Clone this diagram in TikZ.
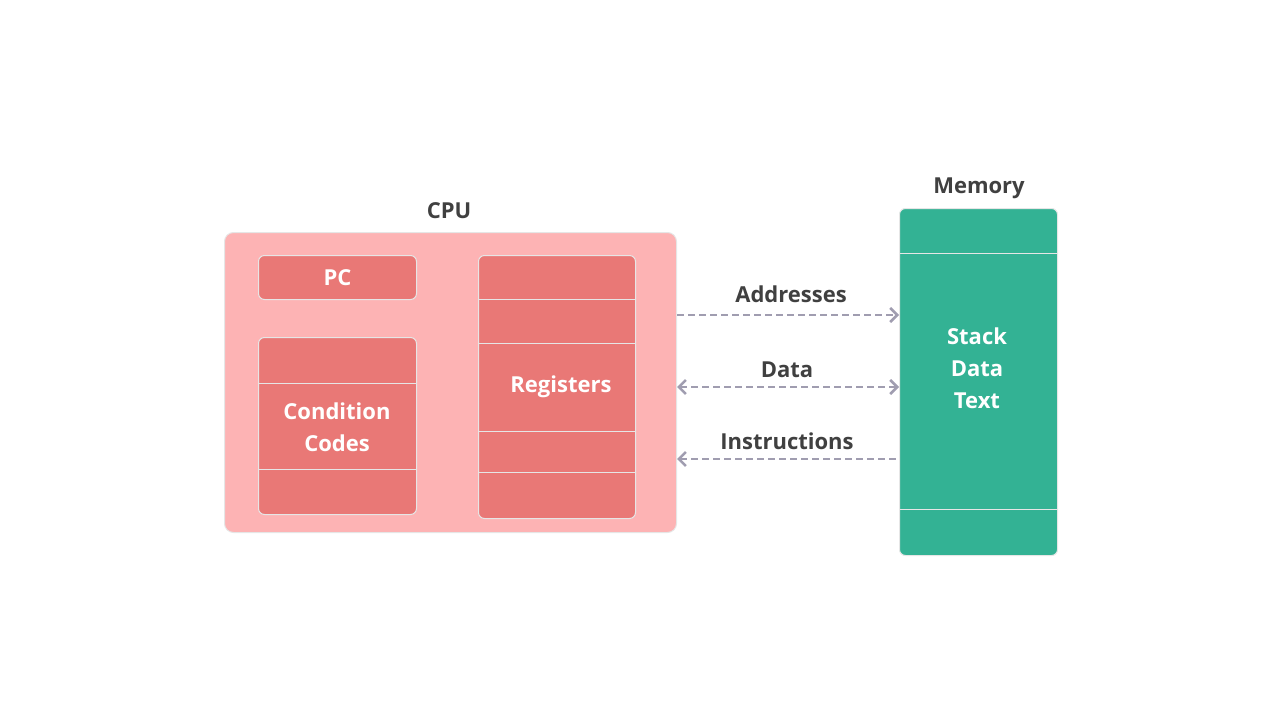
\documentclass[tikz,border=0pt]{standalone}
\usepackage{fontspec}
\setmainfont{Open Sans}
\usetikzlibrary{arrows.meta}
\definecolor{cpufill}{HTML}{FDB3B4}
\definecolor{cellfill}{HTML}{E97876}
\definecolor{memfill}{HTML}{33B294}
\definecolor{arrowc}{HTML}{A09DB0}
\definecolor{txt}{HTML}{404040}
\definecolor{edge}{HTML}{E6E6E6}
\tikzset{
  box/.style={draw=edge, line width=1pt, rounded corners=6pt, inner sep=0pt},
  cell/.style={box, fill=cellfill},
  divider/.style={draw=edge, line width=1pt},
  lbl/.style={font=\fontsize{22}{26}\selectfont\bfseries, text=txt, inner sep=0pt},
  wlbl/.style={font=\fontsize{22}{32}\selectfont\bfseries, text=white, inner sep=0pt, align=center},
  bus/.style={draw=arrowc, line width=2.6pt, dash pattern=on 7pt off 4pt},
  mytip/.tip={Straight Barb[length=7pt, width=14pt, line width=2.6pt]}
}
\begin{document}
\begin{tikzpicture}[x=1pt, y=-1pt]
\useasboundingbox (0,0) rectangle (1280,720);
% CPU
\node[box, fill=cpufill, rounded corners=9pt, minimum width=452pt, minimum height=300pt, anchor=north west] (cpu) at (224,232) {};
\node[lbl] (cpul) at (449,211) {CPU};
% PC
\node[cell, minimum width=158pt, minimum height=44pt, anchor=north west] (pc) at (258,255) {};
\node[wlbl] (pct) at (pc.center) {PC};
% Condition codes
\node[cell, minimum width=158pt, minimum height=177pt, anchor=north west] (cc) at (258,337) {};
\draw[divider] (cc.west |- 0,383) coordinate (cc1) -- (cc.east |- cc1);
\draw[divider] (cc.west |- 0,469) coordinate (cc2) -- (cc.east |- cc2);
\node[wlbl] (cct) at (337,427) {Condition\\Codes};
% Registers
\node[cell, minimum width=157pt, minimum height=263pt, anchor=north west] (reg) at (478,255) {};
\foreach \yy [count=\i] in {299,343,431,472}{
  \draw[divider] (reg.west |- 0,\yy) coordinate (r\i) -- (reg.east |- r\i);
}
\node[wlbl] (regt) at (561,387) {Registers};
% Memory
\node[box, fill=memfill, minimum width=158pt, minimum height=347pt, anchor=north west] (mem) at (899,208) {};
\draw[divider] (mem.west |- 0,253) coordinate (m1) -- (mem.east |- m1);
\draw[divider] (mem.west |- 0,509) coordinate (m2) -- (mem.east |- m2);
\node[wlbl] (memt) at (977,368) {Stack\\Data\\Text};
\node[lbl] (meml) at (979,188) {Memory};
% Buses
\coordinate (ya) at (0,315);
\coordinate (yd) at (0,387);
\coordinate (yi) at (0,459);
\draw[bus, -mytip] (cpu.east |- ya) -- (mem.west |- ya);
\draw[bus, mytip-mytip] (cpu.east |- yd) -- (mem.west |- yd);
\draw[bus, mytip-] (cpu.east |- yi) -- (mem.west |- yi);
\node[lbl] (al) at (791,294) {Addresses};
\node[lbl] (dl) at (787,370) {Data};
\node[lbl] (il) at (787,441) {Instructions};
\end{tikzpicture}
\end{document}
